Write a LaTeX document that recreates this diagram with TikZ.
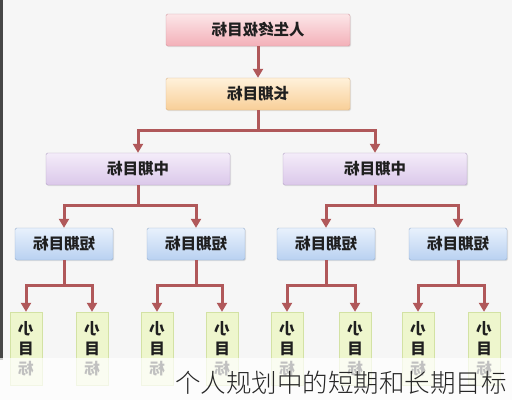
\documentclass[tikz,border=0pt]{standalone}
\usepackage{fontspec}
\usepackage{graphicx}
\usetikzlibrary{arrows.meta,shadows}
\newfontfamily\cjk{Noto Sans CJK SC}[BoldFont={Noto Sans CJK SC Black}]
\newfontfamily\cjklight{Noto Sans CJK SC Light}
\definecolor{bg}{HTML}{F6F6F6}
\definecolor{arr}{HTML}{B0585A}
\definecolor{pinkT}{HTML}{FCE6E8}\definecolor{pinkB}{HTML}{F3B0B8}\definecolor{pinkD}{HTML}{D49CA3}
\definecolor{orT}{HTML}{FFF1DA}\definecolor{orB}{HTML}{F8CF98}\definecolor{orD}{HTML}{DDB688}
\definecolor{puT}{HTML}{F4ECF9}\definecolor{puB}{HTML}{DBC8EA}\definecolor{puD}{HTML}{B5A5C6}
\definecolor{blT}{HTML}{E8F1FC}\definecolor{blB}{HTML}{B9D1F1}\definecolor{blD}{HTML}{97AFCF}
\definecolor{grF}{HTML}{EEF6CD}\definecolor{grD}{HTML}{D3E2A4}
\tikzset{
  box/.style={rounded corners=1.5pt, minimum height=32pt, inner sep=0pt,
    font=\cjk\bfseries\fontsize{15.5}{15.5}\selectfont, text=black!88,
    drop shadow={opacity=0.2, shadow xshift=1pt, shadow yshift=-1.2pt}},
  pinkbox/.style={box, draw=pinkD, top color=pinkT, bottom color=pinkB, minimum width=184pt},
  orangebox/.style={box, draw=orD, top color=orT, bottom color=orB, minimum width=184pt},
  purplebox/.style={box, draw=puD, top color=puT, bottom color=puB, minimum width=184pt},
  bluebox/.style={box, draw=blD, top color=blT, bottom color=blB, minimum width=98pt},
  leafbox/.style={draw=grD, fill=grF, minimum width=32pt, minimum height=73pt, inner sep=0pt,
    align=center, font=\cjk\bfseries\fontsize{15.5}{20}\selectfont, text=black!88},
  ln/.style={draw=arr, line width=3pt},
  arw/.style={ln, -{Triangle[length=9pt,width=10pt]}},
}
\newcommand{\rf}[1]{\reflectbox{#1}}
\begin{document}
\begin{tikzpicture}[x=1pt,y=-1pt]
\useasboundingbox (0,0) rectangle (512,400);
\fill[bg] (0,0) rectangle (512,400);
\fill[black!72] (0,0) rectangle (3,360);

\node[pinkbox] (top) at (258,30) {\rf{人生终极目标}};
\node[orangebox] (long) at (258,94) {\rf{长期目标}};
\node[purplebox] (midL) at (138,169) {\rf{中期目标}};
\node[purplebox] (midR) at (375,169) {\rf{中期目标}};
\node[bluebox] (sA) at (64,244) {\rf{短期目标}};
\node[bluebox] (sB) at (196,244) {\rf{短期目标}};
\node[bluebox] (sC) at (326,244) {\rf{短期目标}};
\node[bluebox] (sD) at (458,244) {\rf{短期目标}};

\foreach \n/\x in {a1/26,a2/92,b1/157,b2/222,c1/287,c2/355,d1/418,d2/484}
  \node[leafbox] (\n) at (\x,348.5) {\rf{小}\\\rf{目}\\\rf{标}};

\draw[arw] (top) -- (long);
\coordinate (j0) at (258,130);
\draw[ln] (long.south) -- (j0);
\draw[arw] (j0) -| (midL.north);
\draw[arw] (j0) -| (midR.north);

\coordinate (jL) at (138,205);
\coordinate (jR) at (375,205);
\draw[ln] (midL.south) -- (jL);
\draw[ln] (midR.south) -- (jR);
\draw[arw] (jL) -| (sA.north);
\draw[arw] (jL) -| (sB.north);
\draw[arw] (jR) -| (sC.north);
\draw[arw] (jR) -| (sD.north);

\coordinate (kA) at (64,285);
\coordinate (kB) at (196,285);
\coordinate (kC) at (326,285);
\coordinate (kD) at (458,285);
\draw[ln] (sA.south) -- (kA);
\draw[ln] (sB.south) -- (kB);
\draw[ln] (sC.south) -- (kC);
\draw[ln] (sD.south) -- (kD);
\draw[arw] (kA) -| (a1.north);
\draw[arw] (kA) -| (a2.north);
\draw[arw] (kB) -| (b1.north);
\draw[arw] (kB) -| (b2.north);
\draw[arw] (kC) -| (c1.north);
\draw[arw] (kC) -| (c2.north);
\draw[arw] (kD) -| (d1.north);
\draw[arw] (kD) -| (d2.north);

\fill[white, opacity=0.72] (0,358) rectangle (512,400);
\node[anchor=base west, inner sep=0pt, font=\cjklight\fontsize{25.5}{26}\selectfont, text=black!85] (cap) at (175,392) {个人规划中的短期和长期目标};
\end{tikzpicture}
\end{document}
